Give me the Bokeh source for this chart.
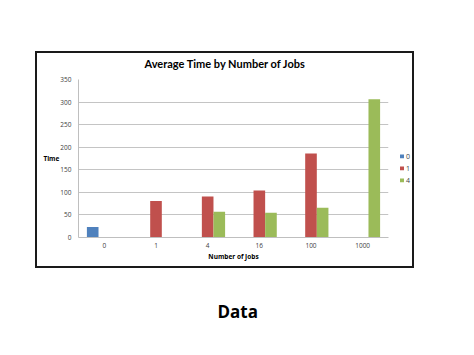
from bokeh.plotting import figure
from bokeh.models import (ColumnDataSource, FactorRange, Title, Legend, LegendItem,
                          SingleIntervalTicker, InlineStyleSheet)
from bokeh.transform import dodge
from bokeh.embed import file_html
from bokeh.resources import INLINE

NaN = float("nan")

categories = ["0", "1", "4", "16", "100", "1000"]
series_names = ["0", "1", "4"]
series_0 = [23, NaN, NaN, NaN, NaN, NaN]
series_1 = [NaN, 81, 91, 104, 186, NaN]
series_4 = [NaN, NaN, 57, 55, 66, 306]
colors = ["#4F81BD", "#C0504D", "#9BBB59"]

title_text = "Average Time by Number of Jobs"
x_title = "Number of Jobs"
y_title = "Time"
caption = "Data"

FONT = "Open Sans"
TFONT = "Lato"

src = ColumnDataSource(dict(cat=categories, s0=series_0, s1=series_1, s4=series_4))

box_css = InlineStyleSheet(css="""
:host { position: relative; }
:host::after {
  content: ""; position: absolute; left: 35px; top: 51px;
  width: 379px; height: 217px; box-sizing: border-box;
  border: 2px solid #1a1a1a; pointer-events: none; z-index: 10;
}
""")

p = figure(frame_width=310, frame_height=158,
           x_range=FactorRange(*categories, range_padding=0),
           y_range=(0, 350), output_backend="svg", toolbar_location=None,
           min_border_left=78, min_border_right=86, min_border_top=79,
           min_border_bottom=118, stylesheets=[box_css])
p.outline_line_color = None
p.background_fill_color = "white"
p.border_fill_color = "white"

p.title.text = title_text
p.title.align = "left"
p.title.offset = 66
p.title.standoff = 20
p.title.text_font = TFONT
p.title.text_font_style = "bold"
p.title.text_font_size = "11px"
p.title.text_color = "black"

offsets = [-0.225, 0.0, 0.225]
renderers = []
for col, off, c in zip(["s0", "s1", "s4"], offsets, colors):
    r = p.vbar(x=dodge("cat", off, range=p.x_range), top=col, width=0.225,
               source=src, fill_color=c, line_color=None)
    renderers.append(r)

p.yaxis.ticker = SingleIntervalTicker(interval=50)
p.ygrid.ticker = SingleIntervalTicker(interval=50)
p.xgrid.grid_line_color = None
p.ygrid.grid_line_color = "#C4C4C4"
p.ygrid.grid_line_width = 1
for ax in (p.xaxis, p.yaxis):
    ax.axis_line_color = "#BFBFBF"
    ax.major_tick_line_color = None
    ax.minor_tick_line_color = None
    ax.major_tick_out = 0
    ax.major_tick_in = 0
    ax.major_label_text_font = FONT
    ax.major_label_text_font_size = "6.5px"
    ax.major_label_text_color = "#404040"
    ax.axis_label_text_font = FONT
    ax.axis_label_text_font_style = "bold"
    ax.axis_label_text_font_size = "6.5px"
    ax.axis_label_text_color = "black"
p.yaxis.major_label_standoff = 3
p.xaxis.major_label_standoff = 5
p.yaxis.axis_label = y_title
p.yaxis.axis_label_orientation = "horizontal"
p.yaxis.axis_label_standoff = -2
p.xaxis.axis_label = x_title
p.xaxis.axis_label_standoff = 1

legend = Legend(items=[LegendItem(label=n, renderers=[r]) for n, r in zip(series_names, renderers)],
                location="center_left", orientation="vertical",
                title=" ", title_text_font_size="12px", title_standoff=6,
                glyph_width=5, glyph_height=5, label_height=8, spacing=3,
                label_text_font=FONT, label_text_font_size="7px",
                label_text_color="#404040", label_standoff=2,
                padding=0, margin=11, border_line_color=None,
                background_fill_alpha=0)
p.add_layout(legend, "right")

# empty spacer title pushes the caption further down
p.add_layout(Title(text=" ", text_font_size="7px", standoff=0), "below")
p.add_layout(Title(text=caption, align="left", offset=139, standoff=50,
                   text_font=FONT, text_font_style="bold", text_font_size="17px",
                   text_color="black"), "below")

open("out.html", "w").write(file_html(p, INLINE))
